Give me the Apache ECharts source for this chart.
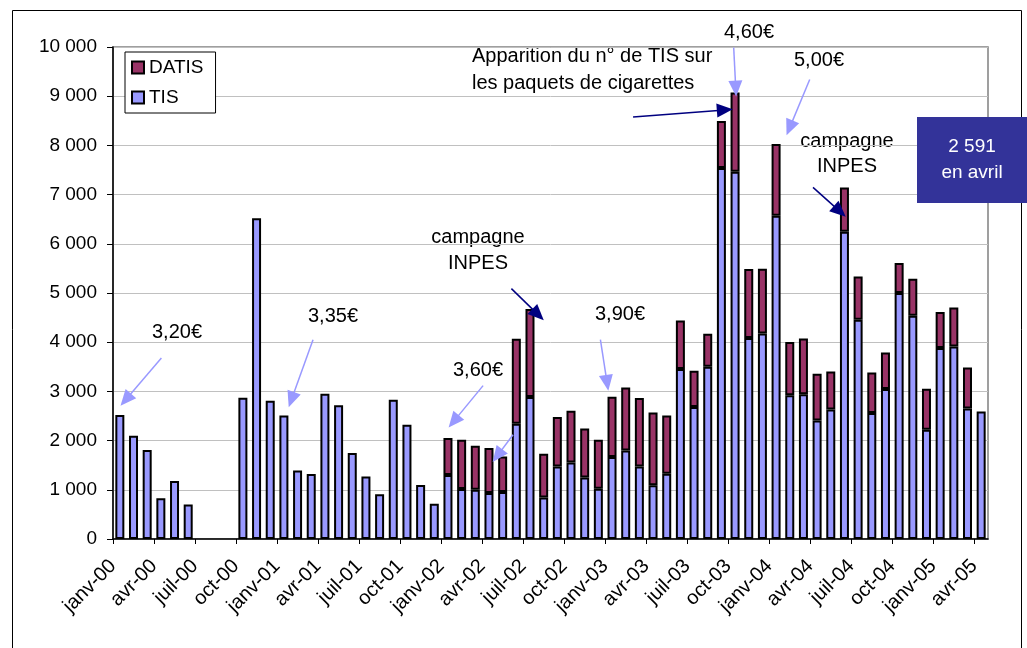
<!DOCTYPE html>
<html><head><meta charset="utf-8">
<script src="https://cdn.jsdelivr.net/npm/echarts@6/dist/echarts.min.js"></script>
<style>html,body{margin:0;padding:0;background:#fff}#c{width:1027px;height:648px}</style>
</head><body><div id="c"></div>
<script>
const months = [
 'janv-00','févr-00','mars-00','avr-00','mai-00','juin-00','juil-00','août-00','sept-00','oct-00','nov-00','déc-00',
 'janv-01','févr-01','mars-01','avr-01','mai-01','juin-01','juil-01','août-01','sept-01','oct-01','nov-01','déc-01',
 'janv-02','févr-02','mars-02','avr-02','mai-02','juin-02','juil-02','août-02','sept-02','oct-02','nov-02','déc-02',
 'janv-03','févr-03','mars-03','avr-03','mai-03','juin-03','juil-03','août-03','sept-03','oct-03','nov-03','déc-03',
 'janv-04','févr-04','mars-04','avr-04','mai-04','juin-04','juil-04','août-04','sept-04','oct-04','nov-04','déc-04',
 'janv-05','févr-05','mars-05','avr-05'
];
const tickLabels = months.concat(['']);
const tis = [
 2520,2100,1810,830,1180,700,null,null,null,2870,6520,2810,
 2510,1390,1320,2950,2720,1750,1270,910,2830,2320,1100,715,
 1300,1015,1000,935,955,2340,2885,845,1475,1555,1250,1020,
 1665,1800,1475,1090,1325,3455,2685,3500,7540,7465,4085,4175,
 6570,2920,2940,2410,2630,6245,4455,2560,3050,5000,4540,2220,
 3880,3915,2650,2591
];
const datis = [
 null,null,null,null,null,null,null,null,null,null,null,null,
 null,null,null,null,null,null,null,null,null,null,null,null,
 753,1004,897,915,724,1731,1790,889,1005,1053,998,999,
 1227,1281,1391,1483,1187,985,736,670,956,1612,1403,1319,
 1458,1084,1137,950,777,901,882,826,743,610,751,835,
 734,792,838,null
];
// annotation arrows: [month position, value] start -> end
const lightArrows = [
 [[3.54,3680],[0.93,2832]],
 [[14.63,4052],[13.05,2832]],
 [[27.07,3117],[24.92,2391]],
 [[29.26,2120],[28.12,1694]],
 [[35.65,4052],[36.14,3172]],
 [[45.4,9988],[45.55,9155]],
 [[50.96,9338],[49.49,8356]]
];
const navyArrows = [
 [[29.14,5089],[31.09,4560]],
 [[38.04,8579],[44.75,8722]],
 [[51.2,7148],[53.16,6660]]
];
const FONT = 'Liberation Sans, Arial, sans-serif';
const fmt = v => String(v).replace(/\B(?=(\d{3})+(?!\d))/g,' ');
const mk = (arr) => arr.map(p => [{coord:p[0], symbol:'none'},{coord:p[1], symbol:'triangle', symbolSize:[14,16]}]);

const chart = echarts.init(document.getElementById('c'), null, {renderer:'canvas'});
chart.setOption({
 animation:false,
 textStyle:{fontFamily:FONT},
 grid:{left:113, right:39, top:47, bottom:109, show:true, borderColor:'#808080', borderWidth:1.5, backgroundColor:'transparent'},
 legend:{
   data:['DATIS','TIS'], orient:'vertical', left:125, top:52,
   padding:[6,12,6,6], itemGap:11, itemWidth:12, itemHeight:12, icon:'rect',
   borderColor:'#000', borderWidth:1, backgroundColor:'#fff',
   textStyle:{fontFamily:FONT, fontSize:19, color:'#000'}
 },
 xAxis:[
  {type:'category', data:months, gridIndex:0, position:'bottom',
   axisLine:{show:false}, axisTick:{show:false}, axisLabel:{show:false}},
  {type:'category', data:tickLabels, gridIndex:0, position:'bottom', boundaryGap:false,
   axisLine:{show:true, lineStyle:{color:'#000', width:1.5}},
   axisTick:{show:true, interval:2, length:5, lineStyle:{color:'#000', width:1}},
   axisLabel:{interval:2, rotate:45, margin:24, fontFamily:FONT, fontSize:20, color:'#000'},
   splitLine:{show:false}},
  {type:'value', min:0, max:64, show:false, gridIndex:0}
 ],
 yAxis:{type:'value', min:0, max:10000, interval:1000,
   axisLine:{show:true, lineStyle:{color:'#000', width:1.5}},
   axisTick:{show:true, length:6, lineStyle:{color:'#000'}},
   axisLabel:{margin:16, fontFamily:FONT, fontSize:19, color:'#000', formatter:fmt},
   splitLine:{show:true, lineStyle:{color:'#c0c0c0', width:1}}},
 series:[
  {name:'TIS', type:'bar', stack:'s', xAxisIndex:0, data:tis, barWidth:9,
   itemStyle:{color:'#9999FF', borderColor:'#000', borderWidth:2}, emphasis:{disabled:true}},
  {name:'DATIS', type:'bar', stack:'s', xAxisIndex:0, data:datis, barWidth:9,
   itemStyle:{color:'#993366', borderColor:'#000', borderWidth:2}, emphasis:{disabled:true}},
  {name:'arrowsLight', type:'line', xAxisIndex:2, data:[], silent:true,
   markLine:{silent:true, animation:false, label:{show:false}, symbol:['none','triangle'],
     lineStyle:{color:'#9999FF', width:1.5, type:'solid'}, itemStyle:{color:'#9999FF'},
     emphasis:{disabled:true}, data:mk(lightArrows)}},
  {name:'arrowsNavy', type:'line', xAxisIndex:2, data:[], silent:true,
   markLine:{silent:true, animation:false, label:{show:false}, symbol:['none','triangle'],
     lineStyle:{color:'#000080', width:1.5, type:'solid'}, itemStyle:{color:'#000080'},
     emphasis:{disabled:true}, data:mk(navyArrows)}}
 ],
 graphic:[
  {type:'rect', z:-1, shape:{x:12.5, y:10.5, width:1009, height:660}, style:{fill:'none', stroke:'#000', lineWidth:1}},
  {type:'text', x:177, y:332, style:{text:'3,20€', font:'20px '+FONT, fill:'#000', align:'center', verticalAlign:'middle'}},
  {type:'text', x:333, y:316, style:{text:'3,35€', font:'20px '+FONT, fill:'#000', align:'center', verticalAlign:'middle'}},
  {type:'text', x:478, y:370, style:{text:'3,60€', font:'20px '+FONT, fill:'#000', align:'center', verticalAlign:'middle'}},
  {type:'text', x:620, y:314, style:{text:'3,90€', font:'20px '+FONT, fill:'#000', align:'center', verticalAlign:'middle'}},
  {type:'text', x:749, y:32, style:{text:'4,60€', font:'20px '+FONT, fill:'#000', align:'center', verticalAlign:'middle'}},
  {type:'text', x:819, y:60, style:{text:'5,00€', font:'20px '+FONT, fill:'#000', align:'center', verticalAlign:'middle'}},
  {type:'text', x:478, y:250, style:{text:'campagne\nINPES', font:'20px '+FONT, lineHeight:26, fill:'#000', align:'center', verticalAlign:'middle'}},
  {type:'text', x:847, y:154, style:{text:'campagne\nINPES', font:'20px '+FONT, lineHeight:25, fill:'#000', align:'center', verticalAlign:'middle'}},
  {type:'text', x:472, y:70, style:{text:'Apparition du n° de TIS sur\nles paquets de cigarettes', font:'20px '+FONT, lineHeight:27, fill:'#000', align:'left', verticalAlign:'middle'}},
  {type:'rect', z:10, shape:{x:917, y:117, width:110, height:86}, style:{fill:'#333399'}},
  {type:'text', z:11, x:972, y:160, style:{text:'2 591\nen avril', font:'19px '+FONT, lineHeight:26, fill:'#fff', align:'center', verticalAlign:'middle'}}
 ]
});
</script></body></html>
